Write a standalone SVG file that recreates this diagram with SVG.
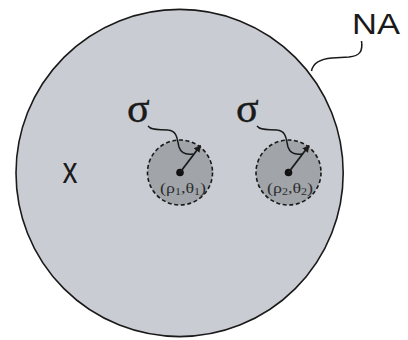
<svg xmlns="http://www.w3.org/2000/svg" width="408" height="340" viewBox="0 0 408 340">
<defs>
<style>
.na{fill:#c9ccd2;stroke:#1a1a1a;stroke-width:1.6}
.sub{fill:#a1a5aa;stroke:#1a1a1a;stroke-width:1.6;stroke-dasharray:4 2.6}
.wave{fill:none;stroke:#1a1a1a;stroke-width:1.5}
.arr{stroke:#1a1a1a;stroke-width:1.8}
.sig{font-family:"Liberation Serif","DejaVu Serif",serif;font-size:42px;fill:#1a1a1a;stroke:#1a1a1a;stroke-width:0.4}
.lbl{font-family:"Liberation Sans","Open Sans",sans-serif;fill:#1a1a1a}
.coord{font-family:"Liberation Serif","DejaVu Serif",serif;font-size:15px;fill:#2e2e2e}
.coord tspan.s{font-size:10px}
</style>
<marker id="ah" viewBox="0 0 10 10" refX="9" refY="5" markerWidth="4" markerHeight="4" orient="auto" markerUnits="strokeWidth">
<path d="M0,0 L10,5 L0,10 z" fill="#1a1a1a"/>
</marker>
</defs>
<g id="NA">
<circle class="na" cx="179.6" cy="173" r="163.6"/>
<text class="lbl" x="352" y="34" font-size="30" textLength="48" lengthAdjust="spacingAndGlyphs">NA</text>
</g>
<g id="x">
<text class="lbl" x="62.5" y="183" font-size="36" textLength="15" lengthAdjust="spacingAndGlyphs">x</text>
</g>
<g id="sigma1">
<circle class="sub" cx="180" cy="172.5" r="32.5"/>
<circle cx="180" cy="172.5" r="3.8" fill="#111"/>
<text class="sig" x="127" y="122">σ</text>
<text class="coord" x="160" y="193" textLength="46" lengthAdjust="spacingAndGlyphs">(ρ<tspan class="s" dy="2">1</tspan><tspan dy="-2">,θ</tspan><tspan class="s" dy="2">1</tspan><tspan dy="-2">)</tspan></text>
</g>
<g id="sigma2">
<circle class="sub" cx="288.5" cy="172.5" r="32.5"/>
<circle cx="288.5" cy="172.5" r="3.8" fill="#111"/>
<text class="sig" x="236" y="122">σ</text>
<text class="coord" x="267" y="193" textLength="46" lengthAdjust="spacingAndGlyphs">(ρ<tspan class="s" dy="2">2</tspan><tspan dy="-2">,θ</tspan><tspan class="s" dy="2">2</tspan><tspan dy="-2">)</tspan></text>
</g>
<g id="connectors">
<line class="arr" x1="180" y1="172.5" x2="200.5" y2="145.5" marker-end="url(#ah)"/>
<line class="arr" x1="288.5" y1="172.5" x2="309" y2="145.5" marker-end="url(#ah)"/>
<path class="wave" d="M148,126 C152,131 160,129 168,130 C178,131 177,140 179,147 C181,153 186,155 193,154"/>
<path class="wave" d="M257,126 C261,131 269,129 277,130 C287,131 286,140 288,147 C290,153 295,155 302,154"/>
<path class="wave" d="M361.5,41 C363,51 360,56 349,57 L332,58 C320,59 313,63 311.5,71"/>
</g>
</svg>
